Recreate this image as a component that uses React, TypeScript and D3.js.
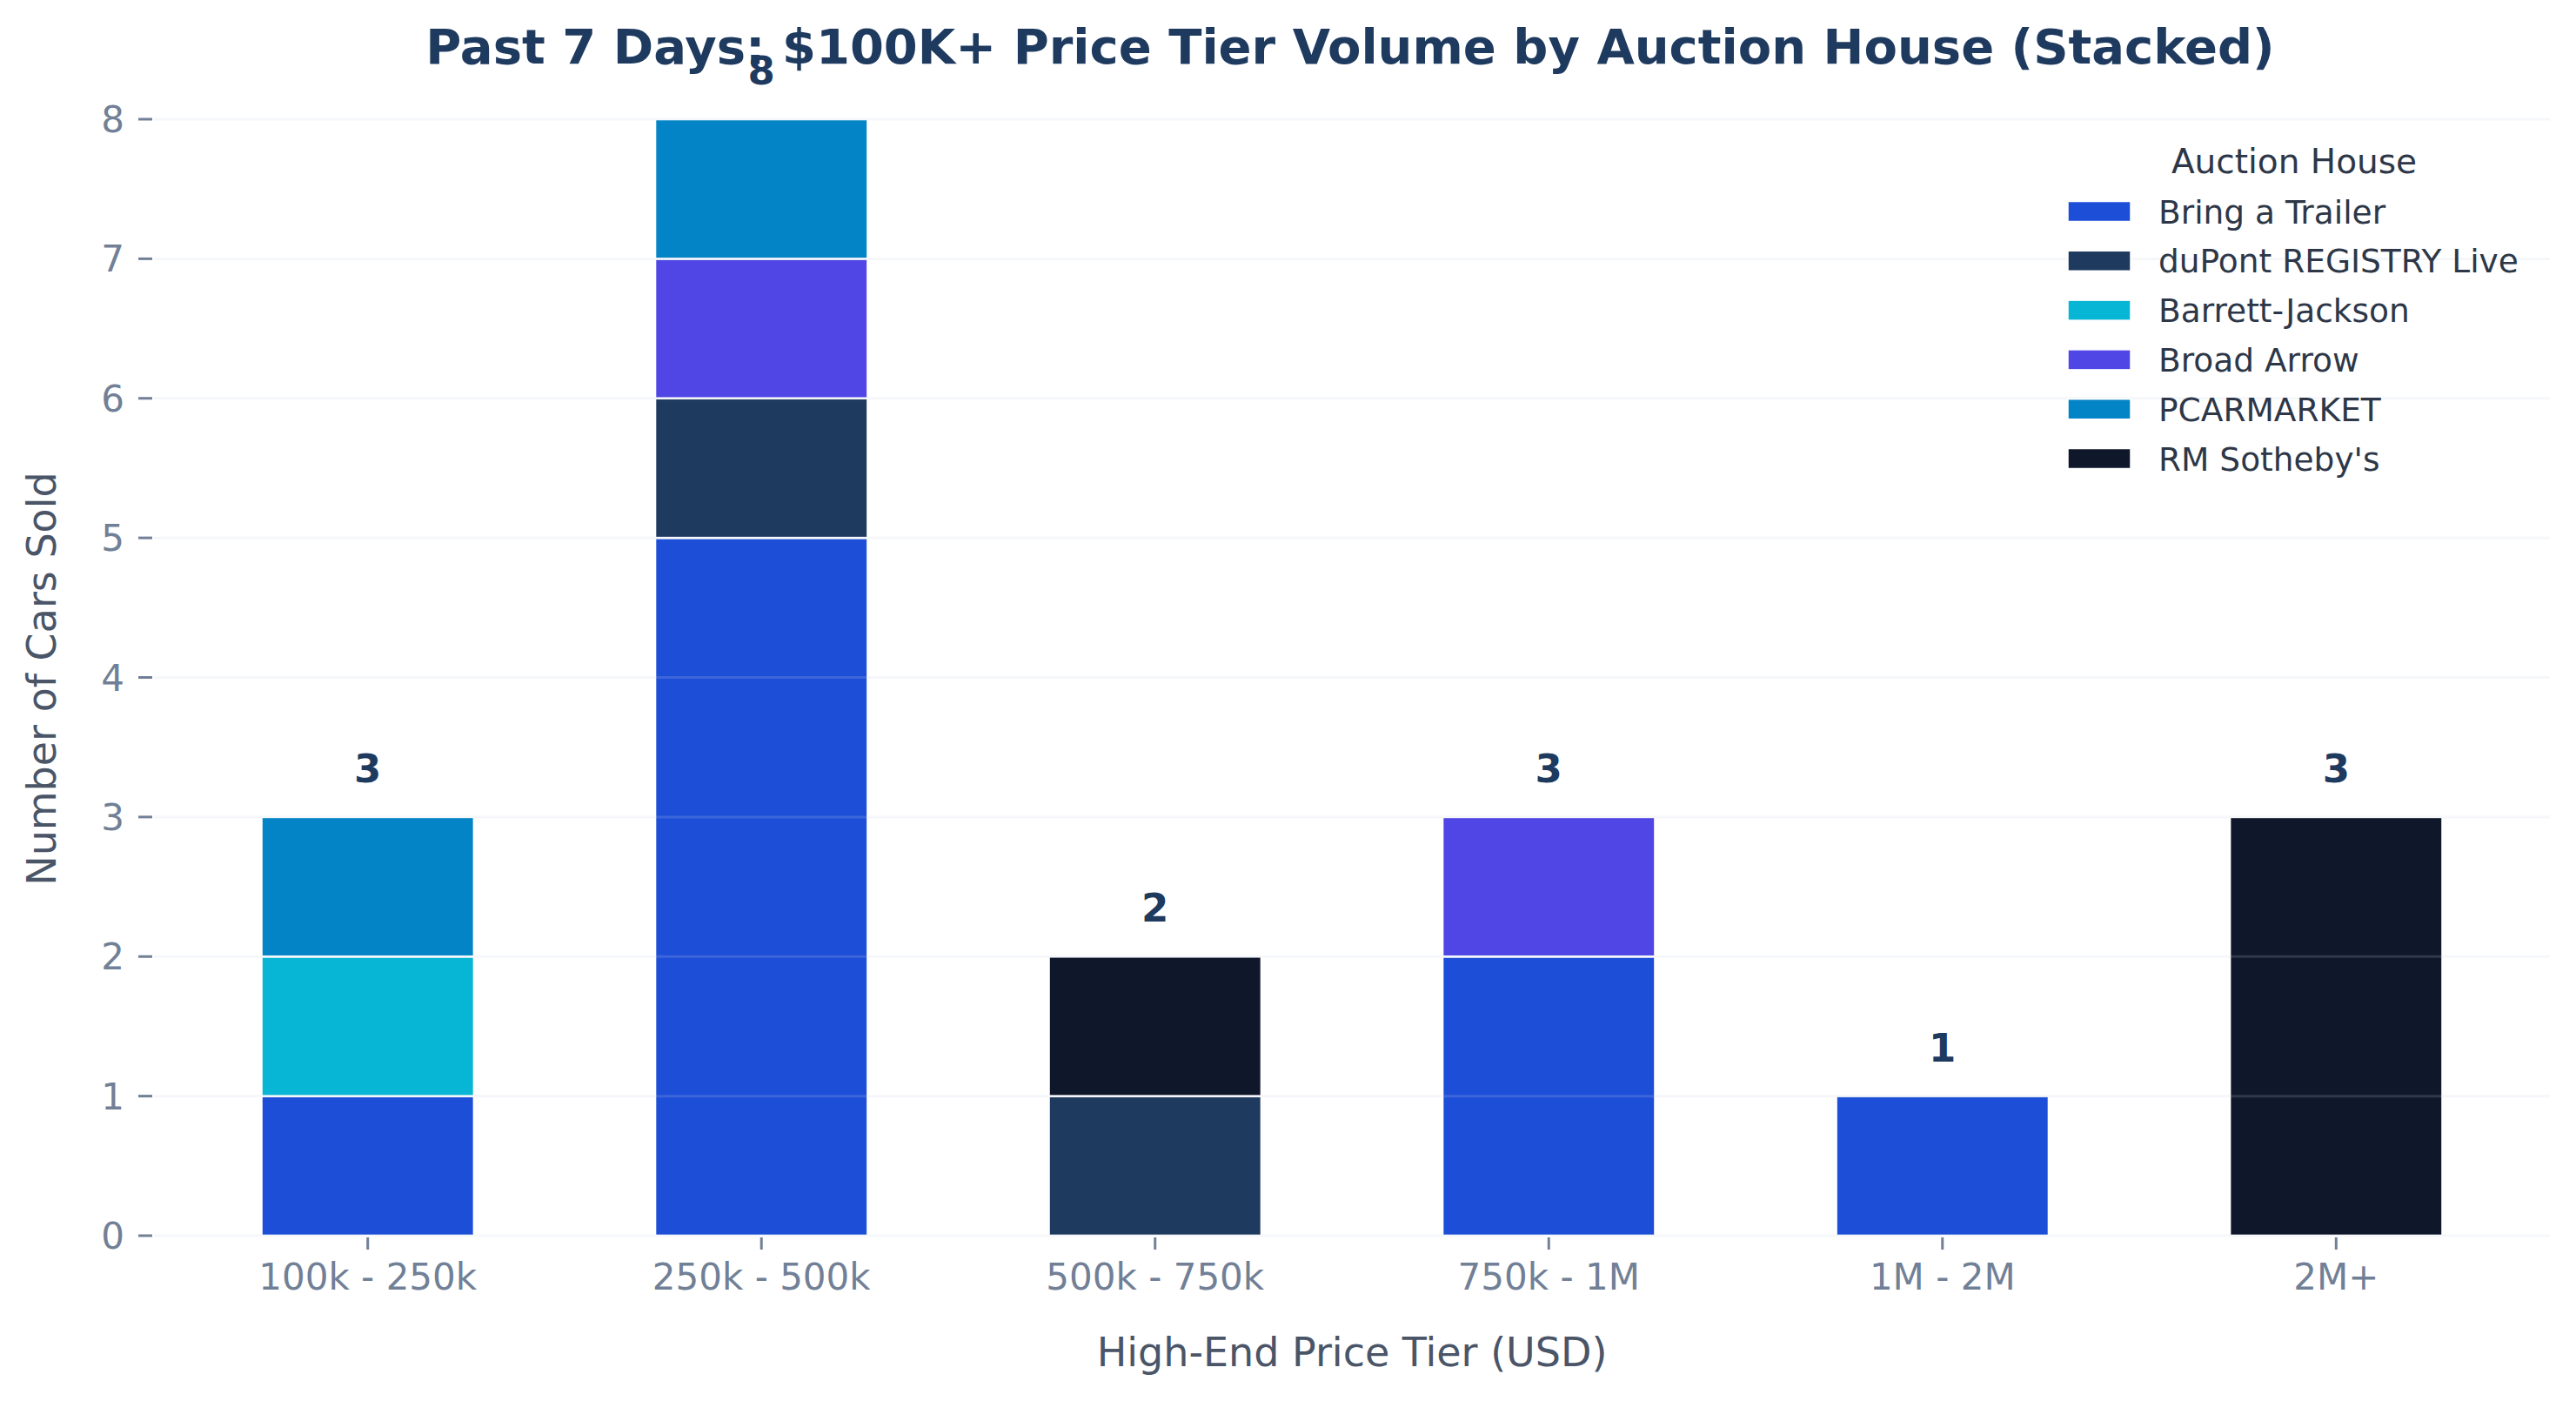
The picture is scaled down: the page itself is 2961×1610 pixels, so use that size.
import React from "react";
import * as d3 from "d3";

const categories = ["100k - 250k", "250k - 500k", "500k - 750k", "750k - 1M", "1M - 2M", "2M+"];
const houses = ["Bring a Trailer", "duPont REGISTRY Live", "Barrett-Jackson", "Broad Arrow", "PCARMARKET", "RM Sotheby's"];
const houseColors = ["#1d4ed8", "#1e3a5f", "#06b6d4", "#4f46e5", "#0284c7", "#0f172a"];

const bringATrailer = [1, 5, 0, 2, 1, 0];
const dupontRegistry = [0, 1, 1, 0, 0, 0];
const barrettJackson = [1, 0, 0, 0, 0, 0];
const broadArrow = [0, 1, 0, 1, 0, 0];
const pcarmarket = [1, 1, 0, 0, 0, 0];
const rmSothebys = [0, 0, 1, 0, 0, 3];
const seriesValues = [bringATrailer, dupontRegistry, barrettJackson, broadArrow, pcarmarket, rmSothebys];

const yTicks = [0, 1, 2, 3, 4, 5, 6, 7, 8];

const W = 2961;
const H = 1610;
const FONT = "DejaVu Sans";

export default function App() {
  const x = d3.scaleLinear().domain([-0.543, 5.543]).range([177, 2931]);
  const y = d3.scaleLinear().domain([0, 8]).range([1420, 137]);
  const barW = x(0.54) - x(0);

  const rows = categories.map((c, i) => {
    const obj: Record<string, number | string> = { cat: c };
    houses.forEach((h, j) => (obj[h] = seriesValues[j][i]));
    return obj;
  });
  const stack = d3.stack<Record<string, number | string>>().keys(houses);
  const stacked = stack(rows as any);
  const totals = categories.map((_, i) => d3.sum(seriesValues, (s) => s[i]));

  const legX = 2377;

  return (
    <svg
      width={W}
      height={H}
      viewBox={`0 0 ${W} ${H}`}
      style={{ position: "absolute", left: 0, top: 0, background: "#ffffff" }}
      fontFamily={FONT}
    >
      <rect x={0} y={0} width={W} height={H} fill="#ffffff" />
      {/* bars */}
      {stacked.map((layer, j) => (
        <g key={houses[j]}>
          {layer.map((d, i) =>
            d[1] - d[0] > 0 ? (
              <rect
                key={i}
                x={x(i) - barW / 2}
                y={y(d[1])}
                width={barW}
                height={y(d[0]) - y(d[1])}
                fill={houseColors[j]}
                stroke="#ffffff"
                strokeWidth={2.5}
              />
            ) : null
          )}
        </g>
      ))}
      {/* grid over bars */}
      {yTicks.map((t) => (
        <line
          key={t}
          x1={x(-0.543)}
          x2={x(5.543)}
          y1={y(t)}
          y2={y(t)}
          stroke="#cbd5e1"
          strokeOpacity={0.18}
          strokeWidth={3}
        />
      ))}
      {/* y ticks */}
      {yTicks.map((t) => (
        <g key={t}>
          <line x1={159} x2={175} y1={y(t)} y2={y(t)} stroke="#718096" strokeWidth={3} />
          <text x={143} y={y(t)} dy="0.36em" textAnchor="end" fontSize={42} fill="#718096">
            {t}
          </text>
        </g>
      ))}
      {/* x ticks */}
      {categories.map((c, i) => (
        <g key={c}>
          <line x1={x(i)} x2={x(i)} y1={1422} y2={1436} stroke="#718096" strokeWidth={3} />
          <text x={x(i)} y={1482} textAnchor="middle" fontSize={42} fill="#718096">
            {c}
          </text>
        </g>
      ))}
      {/* totals */}
      {totals.map((t, i) => (
        <text
          key={i}
          x={x(i)}
          y={y(t) - 40}
          textAnchor="middle"
          fontSize={45}
          fontWeight="bold"
          fill="#1e3a5f"
        >
          {t}
        </text>
      ))}
      {/* axis labels */}
      <text x={1554} y={1570} textAnchor="middle" fontSize={46} fill="#4a5568">
        High-End Price Tier (USD)
      </text>
      <text
        transform={`translate(64, 780) rotate(-90)`}
        textAnchor="middle"
        fontSize={46}
        fill="#4a5568"
      >
        Number of Cars Sold
      </text>
      {/* title */}
      <text x={1552} y={73} textAnchor="middle" fontSize={56} fontWeight="bold" fill="#1e3a5f">
        Past 7 Days: $100K+ Price Tier Volume by Auction House (Stacked)
      </text>
      {/* legend */}
      <text x={legX + 260} y={199} textAnchor="middle" fontSize={39} fill="#2d3748">
        Auction House
      </text>
      {houses.map((h, j) => {
        const cy = 243 + j * 56.8;
        return (
          <g key={h}>
            <rect x={legX} y={cy - 11.5} width={72} height={23} fill={houseColors[j]} stroke="#ffffff" strokeWidth={1.5} />
            <text x={legX + 104} y={cy} dy="0.36em" fontSize={37.5} fill="#2d3748">
              {h}
            </text>
          </g>
        );
      })}
    </svg>
  );
}
